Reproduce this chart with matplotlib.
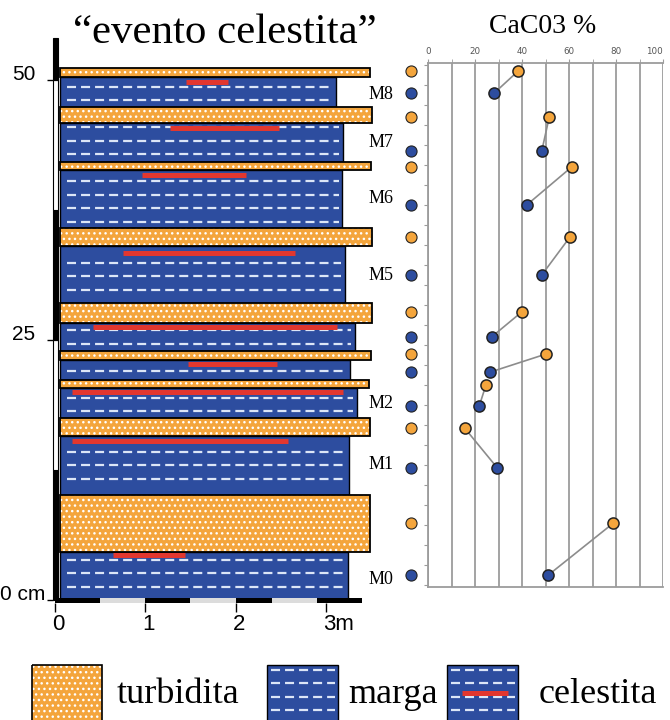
import matplotlib
matplotlib.use("Agg")
import matplotlib.pyplot as plt
from matplotlib.patches import Rectangle
import numpy as np

plt.rcParams['lines.scale_dashes'] = False
plt.rcParams['hatch.linewidth'] = 1.0

# lithological column, bottom to top (cm / m)
layer_type = ['m', 't', 'm', 't', 'm', 't', 'm', 't', 'm', 't',
              'm', 't', 'm', 't', 'm', 't', 'm', 't']
layer_top = [4.6, 10.1, 15.8, 17.5, 20.4, 21.2, 23.1, 23.9, 26.6, 28.6,
             34.0, 35.8, 41.3, 42.1, 45.9, 47.4, 50.3, 51.2]
layer_width = [3.24, 3.49, 3.26, 3.49, 3.34, 3.48, 3.27, 3.50, 3.32, 3.51,
               3.21, 3.51, 3.18, 3.50, 3.19, 3.51, 3.11, 3.49]

# celestite horizons
celest_y = [4.3, 15.3, 20.0, 22.7, 26.25, 33.4, 40.9, 45.4, 49.8]
celest_x0 = [0.64, 0.19, 0.19, 1.47, 0.42, 0.75, 0.96, 1.27, 1.45]
celest_x1 = [1.44, 2.58, 3.19, 2.46, 3.12, 2.66, 2.12, 2.48, 1.92]

marl_names = ['M0', 'M1', 'M2', 'M5', 'M6', 'M7', 'M8']
marl_name_y = [2.0, 13.0, 18.85, 31.25, 38.65, 43.95, 48.65]

# CaCO3 samples, bottom to top
sample_type = ['m', 't'] * 9
sample_depth = [2.4, 7.4, 12.7, 16.5, 18.65, 20.7, 21.9, 23.65, 25.3, 27.7,
                31.25, 34.9, 37.98, 41.63, 43.17, 46.44, 48.75, 50.87]
caco3 = [51.2, 78.9, 29.5, 15.7, 21.8, 24.7, 26.3, 50.2, 27.1, 39.9,
         48.4, 60.4, 42.0, 61.1, 48.4, 51.6, 28.2, 38.4]
has_key_dot = [True] * 5 + [False] + [True] * 12

ytick_vals = [0, 25, 50]
ytick_labels = ['0 cm', '25', '50']
xtick_vals = [0, 1, 2, 3]
xtick_labels = ['0', '1', '2', '3m']
scale_y = [0, 12.5, 25, 37.5, 50, 54.0]
scale_x = [0, 0.5, 1.0, 1.5, 2.0, 2.4, 2.9, 3.4]

BLUE = '#2d4d9f'
ORANGE = '#f4a53c'
RED = '#e2372f'
DASH = '#dce6f7'
GRID = '#9c9c9c'
SERIF = 'Liberation Serif'
NARROW = ['Liberation Sans Narrow', 'Liberation Sans']

W, H = 670, 720
PX_M, PX_CM = 90.3, 10.4
X0, Y0 = 55, 600
COL_X = 0.055


def rect(l, t, r, b):
    return [l / W, 1 - b / H, (r - l) / W, (b - t) / H]


def turbidite(ax, x, y, w, h, lw=1.3, z=5):
    ax.add_patch(Rectangle((x, y), w, h, fc=ORANGE, ec='none', zorder=z, clip_on=False))
    ax.add_patch(Rectangle((x, y), w, h, fc='none', ec='white', lw=0, hatch='...',
                           zorder=z, clip_on=False))
    ax.add_patch(Rectangle((x, y), w, h, fc='none', ec='black', lw=lw, zorder=z, clip_on=False))


fig = plt.figure(figsize=(6.7, 7.2), dpi=100)

# ---- column ----
ax = fig.add_axes(rect(0, 30, 400, 650))
ax.set_xlim((0 - X0) / PX_M, (400 - X0) / PX_M)
ax.set_ylim((Y0 - 650) / PX_CM, (Y0 - 30) / PX_CM)
ax.axis('off')

dash_rows = 1.25 + 1.3 * np.arange(42)
bottoms = [0] + layer_top[:-1]
for kind, b, t, w in zip(layer_type, bottoms, layer_top, layer_width):
    if kind == 'm':
        ax.add_patch(Rectangle((COL_X, b), w - COL_X, t - b, fc=BLUE, ec='black', lw=1.0, zorder=2))
        rows = [r for r in dash_rows if b + 0.25 < r < t - 0.25]
        ax.hlines(rows, COL_X + 0.08, w - 0.04, colors=DASH, lw=1.6,
                  linestyles=(0, (6.5, 3.6)), zorder=3)
    else:
        turbidite(ax, COL_X, b, w - COL_X, t - b)

ax.hlines(celest_y, celest_x0, celest_x1, colors=RED, lw=3.6, zorder=4)

for name, y in zip(marl_names, marl_name_y):
    ax.text(3.47, y, name, ha='left', va='center', fontsize=13, family=SERIF)

# scale bars
for i in range(len(scale_y) - 1):
    fc = 'black' if i % 2 == 0 else 'white'
    ax.add_patch(Rectangle((-0.022, scale_y[i]), 0.055, scale_y[i + 1] - scale_y[i],
                           fc=fc, ec='black', lw=0.8, zorder=6))
for i in range(len(scale_x) - 1):
    fc = 'black' if i % 2 == 0 else '#dcdcdc'
    ax.add_patch(Rectangle((scale_x[i], -0.25), scale_x[i + 1] - scale_x[i], 0.45,
                           fc=fc, ec='none', zorder=6))

ax.hlines(ytick_vals, -0.09, -0.022, colors='black', lw=1.0)
for v, lab in zip(ytick_vals, ytick_labels):
    xl = -0.11 if ' ' in lab else -0.22
    ax.text(xl, v, lab, ha='right', va='baseline', fontsize=15, family=NARROW)
ax.vlines(xtick_vals, -1.15, -0.25, colors='black', lw=1.0)
for v, lab in zip(xtick_vals, xtick_labels):
    ax.text(v - 0.03, -2.4, lab, ha='left', va='center', fontsize=16, family=NARROW)

# ---- CaCO3 profile ----
ax2 = fig.add_axes(rect(428, 63, 663, 587))
ax2.set_xlim(0, 100)
ax2.set_ylim((Y0 - 587) / PX_CM, (Y0 - 63) / PX_CM)
ax2.spines['right'].set_visible(False)
for s in ['top', 'left', 'bottom']:
    ax2.spines[s].set_color(GRID)
    ax2.spines[s].set_linewidth(1.3)
ax2.xaxis.tick_top()
ax2.set_xticks(range(0, 101, 20))
ax2.set_xticks(range(0, 101, 10), minor=True)
ax2.grid(axis='x', which='both', color=GRID, lw=1.3)
ax2.tick_params(axis='x', which='both', length=3, color=GRID, labelsize=6.3,
                labelcolor='#555555', pad=2)
ax2.get_xticklabels()[-1].set_horizontalalignment('right')
ax2.set_yticks(np.arange(1.48, 51.6, 1.92))
ax2.set_yticklabels([])
ax2.tick_params(axis='y', length=3, color=GRID)

for i in range(0, len(caco3), 2):
    ax2.plot(caco3[i:i + 2], sample_depth[i:i + 2], color='#8c8c8c', lw=1.2, zorder=3)
for kind, d, c, key in zip(sample_type, sample_depth, caco3, has_key_dot):
    fc = BLUE if kind == 'm' else ORANGE
    ax2.plot(c, d, 'o', ms=8, mfc=fc, mec='#222222', mew=1.1, zorder=4)
    if key:
        ax2.plot(-7.2, d, 'o', ms=8, mfc=fc, mec='#222222', mew=0.8, zorder=4, clip_on=False)

# ---- titles ----
fig.text(225 / W, 1 - 43 / H, '\u201cevento celestita\u201d', ha='center', va='baseline',
         fontsize=31, family=SERIF)
fig.text(543 / W, 1 - 33 / H, 'CaC03 %', ha='center', va='baseline', fontsize=20, family=SERIF)

# ---- legend ----
lg = fig.add_axes([0, 0, 1, 70 / H])
lg.set_xlim(0, W)
lg.set_ylim(H, H - 70)
lg.axis('off')
legend_labels = ['turbidita', 'marga', 'celestita']
swatch_left = [32, 267, 447]
text_left = [117, 348, 539]
for k, (lab, sx, tx) in enumerate(zip(legend_labels, swatch_left, text_left)):
    if k == 0:
        turbidite(lg, sx, 665, 70, 57, lw=1.2)
    else:
        lg.add_patch(Rectangle((sx, 665), 71, 57, fc=BLUE, ec='black', lw=1.0, clip_on=False))
        lg.hlines([670, 683, 697, 710], sx + 4, sx + 68, colors=DASH, lw=1.6,
                  linestyles=(0, (6.5, 3.6)))
        if k == 2:
            lg.hlines(693, sx + 15, sx + 61, colors=RED, lw=3.6)
    lg.text(tx, 703, lab, ha='left', va='baseline', fontsize=26, family=SERIF)

fig.savefig('out.png', dpi=100)
